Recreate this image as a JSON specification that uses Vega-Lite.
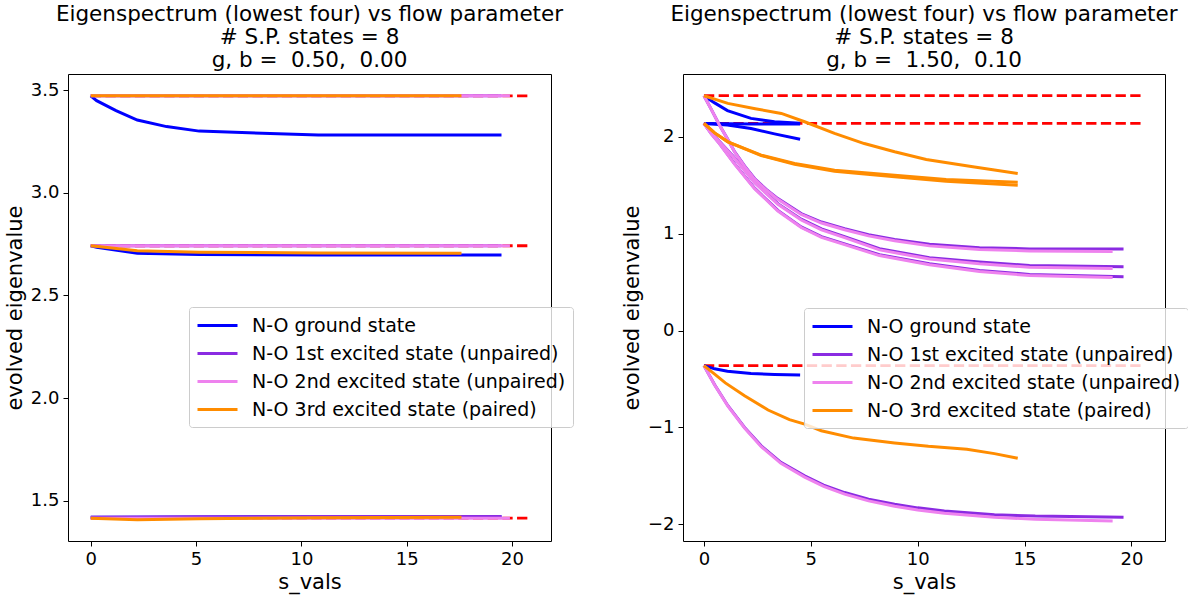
{
  "$schema": "https://vega.github.io/schema/vega-lite/v6.json",
  "background": "white",
  "padding": {"left": 3, "top": 3, "right": 5, "bottom": 5},
  "spacing": 132,
  "bounds": "flush",
  "datasets": {
    "L": [
      {"k":"ref","id":"r1","s":0,"v":3.472},{"k":"ref","id":"r1","s":20.85,"v":3.472},
      {"k":"ref","id":"r2","s":0,"v":2.742},{"k":"ref","id":"r2","s":20.85,"v":2.742},
      {"k":"ref","id":"r3","s":0,"v":1.416},{"k":"ref","id":"r3","s":20.85,"v":1.416},
      {"k":"N-O ground state","id":"b1","s":0,"v":3.472},{"k":"N-O ground state","id":"b1","s":0.28,"v":3.448},{"k":"N-O ground state","id":"b1","s":1.2,"v":3.4},{"k":"N-O ground state","id":"b1","s":2.21,"v":3.354},{"k":"N-O ground state","id":"b1","s":3.6,"v":3.322},{"k":"N-O ground state","id":"b1","s":5.15,"v":3.3},{"k":"N-O ground state","id":"b1","s":10.8,"v":3.281},{"k":"N-O ground state","id":"b1","s":19.5,"v":3.281},
      {"k":"N-O ground state","id":"b2","s":0,"v":2.742},{"k":"N-O ground state","id":"b2","s":0.28,"v":2.735},{"k":"N-O ground state","id":"b2","s":2.21,"v":2.706},{"k":"N-O ground state","id":"b2","s":5.15,"v":2.699},{"k":"N-O ground state","id":"b2","s":10.8,"v":2.697},{"k":"N-O ground state","id":"b2","s":19.5,"v":2.697},
      {"k":"N-O ground state","id":"b3","s":0,"v":1.42},{"k":"N-O ground state","id":"b3","s":2.21,"v":1.421},{"k":"N-O ground state","id":"b3","s":5.15,"v":1.422},{"k":"N-O ground state","id":"b3","s":10.8,"v":1.423},{"k":"N-O ground state","id":"b3","s":19.5,"v":1.423},
      {"k":"N-O 1st excited state (unpaired)","id":"p1","s":0,"v":3.472},{"k":"N-O 1st excited state (unpaired)","id":"p1","s":19.5,"v":3.472},
      {"k":"N-O 1st excited state (unpaired)","id":"p2","s":0,"v":2.742},{"k":"N-O 1st excited state (unpaired)","id":"p2","s":19.5,"v":2.742},
      {"k":"N-O 1st excited state (unpaired)","id":"p3","s":0,"v":1.42},{"k":"N-O 1st excited state (unpaired)","id":"p3","s":2.21,"v":1.422},{"k":"N-O 1st excited state (unpaired)","id":"p3","s":5.15,"v":1.423},{"k":"N-O 1st excited state (unpaired)","id":"p3","s":10.8,"v":1.424},{"k":"N-O 1st excited state (unpaired)","id":"p3","s":19.5,"v":1.424},
      {"k":"N-O 2nd excited state (unpaired)","id":"v1","s":0,"v":3.472},{"k":"N-O 2nd excited state (unpaired)","id":"v1","s":19.9,"v":3.472},
      {"k":"N-O 2nd excited state (unpaired)","id":"v2","s":0,"v":2.742},{"k":"N-O 2nd excited state (unpaired)","id":"v2","s":19.9,"v":2.742},
      {"k":"N-O 2nd excited state (unpaired)","id":"v3","s":0,"v":1.416},{"k":"N-O 2nd excited state (unpaired)","id":"v3","s":19.9,"v":1.416},
      {"k":"N-O 3rd excited state (paired)","id":"o1","s":0,"v":3.472},{"k":"N-O 3rd excited state (paired)","id":"o1","s":17.6,"v":3.472},
      {"k":"N-O 3rd excited state (paired)","id":"o2","s":0,"v":2.742},{"k":"N-O 3rd excited state (paired)","id":"o2","s":2.21,"v":2.718},{"k":"N-O 3rd excited state (paired)","id":"o2","s":5.15,"v":2.711},{"k":"N-O 3rd excited state (paired)","id":"o2","s":10.8,"v":2.707},{"k":"N-O 3rd excited state (paired)","id":"o2","s":17.6,"v":2.705},
      {"k":"N-O 3rd excited state (paired)","id":"o3","s":0,"v":1.416},{"k":"N-O 3rd excited state (paired)","id":"o3","s":2.21,"v":1.408},{"k":"N-O 3rd excited state (paired)","id":"o3","s":5.15,"v":1.413},{"k":"N-O 3rd excited state (paired)","id":"o3","s":10.8,"v":1.418},{"k":"N-O 3rd excited state (paired)","id":"o3","s":17.6,"v":1.42}
    ],
    "R": [
      {"k":"ref","id":"r1","s":0,"v":2.424},{"k":"ref","id":"r1","s":20.56,"v":2.424},
      {"k":"ref","id":"r2","s":0,"v":2.138},{"k":"ref","id":"r2","s":20.56,"v":2.138},
      {"k":"ref","id":"r3","s":0,"v":-0.362},{"k":"ref","id":"r3","s":20.56,"v":-0.362},
      {"k":"N-O ground state","id":"b1","s":0,"v":2.424},{"k":"N-O ground state","id":"b1","s":0.5,"v":2.35},{"k":"N-O ground state","id":"b1","s":1.1,"v":2.27},{"k":"N-O ground state","id":"b1","s":2.2,"v":2.19},{"k":"N-O ground state","id":"b1","s":3.3,"v":2.155},{"k":"N-O ground state","id":"b1","s":4.5,"v":2.14},
      {"k":"N-O ground state","id":"b2","s":0,"v":2.138},{"k":"N-O ground state","id":"b2","s":2.2,"v":2.132},{"k":"N-O ground state","id":"b2","s":4.5,"v":2.132},
      {"k":"N-O ground state","id":"b3","s":0,"v":2.138},{"k":"N-O ground state","id":"b3","s":1.1,"v":2.122},{"k":"N-O ground state","id":"b3","s":2.2,"v":2.086},{"k":"N-O ground state","id":"b3","s":3.3,"v":2.03},{"k":"N-O ground state","id":"b3","s":4.5,"v":1.975},
      {"k":"N-O ground state","id":"b4","s":0,"v":-0.362},{"k":"N-O ground state","id":"b4","s":0.5,"v":-0.395},{"k":"N-O ground state","id":"b4","s":1.1,"v":-0.42},{"k":"N-O ground state","id":"b4","s":2.2,"v":-0.443},{"k":"N-O ground state","id":"b4","s":3.3,"v":-0.453},{"k":"N-O ground state","id":"b4","s":4.5,"v":-0.459},
      {"k":"N-O 1st excited state (unpaired)","id":"p1","s":0,"v":2.424},{"k":"N-O 1st excited state (unpaired)","id":"p1","s":0.35,"v":2.28},{"k":"N-O 1st excited state (unpaired)","id":"p1","s":0.73,"v":2.12},{"k":"N-O 1st excited state (unpaired)","id":"p1","s":1.1,"v":1.98},{"k":"N-O 1st excited state (unpaired)","id":"p1","s":1.44,"v":1.844},{"k":"N-O 1st excited state (unpaired)","id":"p1","s":1.9,"v":1.7},{"k":"N-O 1st excited state (unpaired)","id":"p1","s":2.37,"v":1.569},{"k":"N-O 1st excited state (unpaired)","id":"p1","s":2.9,"v":1.46},{"k":"N-O 1st excited state (unpaired)","id":"p1","s":3.46,"v":1.362},{"k":"N-O 1st excited state (unpaired)","id":"p1","s":4.55,"v":1.207},{"k":"N-O 1st excited state (unpaired)","id":"p1","s":5.5,"v":1.12},{"k":"N-O 1st excited state (unpaired)","id":"p1","s":6.58,"v":1.052},{"k":"N-O 1st excited state (unpaired)","id":"p1","s":7.7,"v":0.99},{"k":"N-O 1st excited state (unpaired)","id":"p1","s":8.92,"v":0.941},{"k":"N-O 1st excited state (unpaired)","id":"p1","s":10.55,"v":0.89},{"k":"N-O 1st excited state (unpaired)","id":"p1","s":12.89,"v":0.855},{"k":"N-O 1st excited state (unpaired)","id":"p1","s":15.23,"v":0.843},{"k":"N-O 1st excited state (unpaired)","id":"p1","s":19.63,"v":0.841},
      {"k":"N-O 1st excited state (unpaired)","id":"p2","s":0,"v":2.138},{"k":"N-O 1st excited state (unpaired)","id":"p2","s":0.35,"v":2.04},{"k":"N-O 1st excited state (unpaired)","id":"p2","s":0.73,"v":1.95},{"k":"N-O 1st excited state (unpaired)","id":"p2","s":1.44,"v":1.78},{"k":"N-O 1st excited state (unpaired)","id":"p2","s":2.37,"v":1.53},{"k":"N-O 1st excited state (unpaired)","id":"p2","s":3.46,"v":1.31},{"k":"N-O 1st excited state (unpaired)","id":"p2","s":4.55,"v":1.15},{"k":"N-O 1st excited state (unpaired)","id":"p2","s":5.5,"v":1.05},{"k":"N-O 1st excited state (unpaired)","id":"p2","s":6.58,"v":0.97},{"k":"N-O 1st excited state (unpaired)","id":"p2","s":8.21,"v":0.845},{"k":"N-O 1st excited state (unpaired)","id":"p2","s":10.55,"v":0.752},{"k":"N-O 1st excited state (unpaired)","id":"p2","s":12.89,"v":0.707},{"k":"N-O 1st excited state (unpaired)","id":"p2","s":15.23,"v":0.672},{"k":"N-O 1st excited state (unpaired)","id":"p2","s":19.63,"v":0.659},
      {"k":"N-O 1st excited state (unpaired)","id":"p3","s":0,"v":2.138},{"k":"N-O 1st excited state (unpaired)","id":"p3","s":0.35,"v":2.03},{"k":"N-O 1st excited state (unpaired)","id":"p3","s":0.73,"v":1.93},{"k":"N-O 1st excited state (unpaired)","id":"p3","s":1.44,"v":1.72},{"k":"N-O 1st excited state (unpaired)","id":"p3","s":2.37,"v":1.47},{"k":"N-O 1st excited state (unpaired)","id":"p3","s":3.46,"v":1.24},{"k":"N-O 1st excited state (unpaired)","id":"p3","s":4.55,"v":1.07},{"k":"N-O 1st excited state (unpaired)","id":"p3","s":5.5,"v":0.97},{"k":"N-O 1st excited state (unpaired)","id":"p3","s":6.58,"v":0.895},{"k":"N-O 1st excited state (unpaired)","id":"p3","s":8.21,"v":0.783},{"k":"N-O 1st excited state (unpaired)","id":"p3","s":10.55,"v":0.69},{"k":"N-O 1st excited state (unpaired)","id":"p3","s":12.89,"v":0.621},{"k":"N-O 1st excited state (unpaired)","id":"p3","s":15.23,"v":0.579},{"k":"N-O 1st excited state (unpaired)","id":"p3","s":19.63,"v":0.555},
      {"k":"N-O 1st excited state (unpaired)","id":"p4","s":0,"v":-0.362},{"k":"N-O 1st excited state (unpaired)","id":"p4","s":0.5,"v":-0.56},{"k":"N-O 1st excited state (unpaired)","id":"p4","s":1.12,"v":-0.776},{"k":"N-O 1st excited state (unpaired)","id":"p4","s":1.9,"v":-1.0},{"k":"N-O 1st excited state (unpaired)","id":"p4","s":2.68,"v":-1.19},{"k":"N-O 1st excited state (unpaired)","id":"p4","s":3.6,"v":-1.36},{"k":"N-O 1st excited state (unpaired)","id":"p4","s":4.71,"v":-1.5},{"k":"N-O 1st excited state (unpaired)","id":"p4","s":5.6,"v":-1.595},{"k":"N-O 1st excited state (unpaired)","id":"p4","s":6.58,"v":-1.672},{"k":"N-O 1st excited state (unpaired)","id":"p4","s":7.7,"v":-1.74},{"k":"N-O 1st excited state (unpaired)","id":"p4","s":8.92,"v":-1.793},{"k":"N-O 1st excited state (unpaired)","id":"p4","s":10.0,"v":-1.83},{"k":"N-O 1st excited state (unpaired)","id":"p4","s":11.25,"v":-1.862},{"k":"N-O 1st excited state (unpaired)","id":"p4","s":13.59,"v":-1.9},{"k":"N-O 1st excited state (unpaired)","id":"p4","s":15.5,"v":-1.915},{"k":"N-O 1st excited state (unpaired)","id":"p4","s":19.63,"v":-1.927},
      {"k":"N-O 2nd excited state (unpaired)","id":"v1","s":0,"v":2.424},{"k":"N-O 2nd excited state (unpaired)","id":"v1","s":0.35,"v":2.28},{"k":"N-O 2nd excited state (unpaired)","id":"v1","s":0.73,"v":2.118},{"k":"N-O 2nd excited state (unpaired)","id":"v1","s":1.1,"v":1.977},{"k":"N-O 2nd excited state (unpaired)","id":"v1","s":1.44,"v":1.84},{"k":"N-O 2nd excited state (unpaired)","id":"v1","s":1.9,"v":1.695},{"k":"N-O 2nd excited state (unpaired)","id":"v1","s":2.37,"v":1.563},{"k":"N-O 2nd excited state (unpaired)","id":"v1","s":2.9,"v":1.453},{"k":"N-O 2nd excited state (unpaired)","id":"v1","s":3.46,"v":1.354},{"k":"N-O 2nd excited state (unpaired)","id":"v1","s":4.55,"v":1.198},{"k":"N-O 2nd excited state (unpaired)","id":"v1","s":5.5,"v":1.11},{"k":"N-O 2nd excited state (unpaired)","id":"v1","s":6.58,"v":1.04},{"k":"N-O 2nd excited state (unpaired)","id":"v1","s":7.7,"v":0.977},{"k":"N-O 2nd excited state (unpaired)","id":"v1","s":8.92,"v":0.927},{"k":"N-O 2nd excited state (unpaired)","id":"v1","s":10.55,"v":0.874},{"k":"N-O 2nd excited state (unpaired)","id":"v1","s":12.89,"v":0.836},{"k":"N-O 2nd excited state (unpaired)","id":"v1","s":15.23,"v":0.822},{"k":"N-O 2nd excited state (unpaired)","id":"v1","s":19.12,"v":0.817},
      {"k":"N-O 2nd excited state (unpaired)","id":"v2","s":0,"v":2.138},{"k":"N-O 2nd excited state (unpaired)","id":"v2","s":0.35,"v":2.038},{"k":"N-O 2nd excited state (unpaired)","id":"v2","s":0.73,"v":1.947},{"k":"N-O 2nd excited state (unpaired)","id":"v2","s":1.44,"v":1.776},{"k":"N-O 2nd excited state (unpaired)","id":"v2","s":2.37,"v":1.525},{"k":"N-O 2nd excited state (unpaired)","id":"v2","s":3.46,"v":1.303},{"k":"N-O 2nd excited state (unpaired)","id":"v2","s":4.55,"v":1.141},{"k":"N-O 2nd excited state (unpaired)","id":"v2","s":5.5,"v":1.04},{"k":"N-O 2nd excited state (unpaired)","id":"v2","s":6.58,"v":0.959},{"k":"N-O 2nd excited state (unpaired)","id":"v2","s":8.21,"v":0.833},{"k":"N-O 2nd excited state (unpaired)","id":"v2","s":10.55,"v":0.738},{"k":"N-O 2nd excited state (unpaired)","id":"v2","s":12.89,"v":0.69},{"k":"N-O 2nd excited state (unpaired)","id":"v2","s":15.23,"v":0.654},{"k":"N-O 2nd excited state (unpaired)","id":"v2","s":19.12,"v":0.641},
      {"k":"N-O 2nd excited state (unpaired)","id":"v3","s":0,"v":2.138},{"k":"N-O 2nd excited state (unpaired)","id":"v3","s":0.35,"v":2.028},{"k":"N-O 2nd excited state (unpaired)","id":"v3","s":0.73,"v":1.927},{"k":"N-O 2nd excited state (unpaired)","id":"v3","s":1.44,"v":1.716},{"k":"N-O 2nd excited state (unpaired)","id":"v3","s":2.37,"v":1.465},{"k":"N-O 2nd excited state (unpaired)","id":"v3","s":3.46,"v":1.234},{"k":"N-O 2nd excited state (unpaired)","id":"v3","s":4.55,"v":1.063},{"k":"N-O 2nd excited state (unpaired)","id":"v3","s":5.5,"v":0.962},{"k":"N-O 2nd excited state (unpaired)","id":"v3","s":6.58,"v":0.887},{"k":"N-O 2nd excited state (unpaired)","id":"v3","s":8.21,"v":0.774},{"k":"N-O 2nd excited state (unpaired)","id":"v3","s":10.55,"v":0.68},{"k":"N-O 2nd excited state (unpaired)","id":"v3","s":12.89,"v":0.61},{"k":"N-O 2nd excited state (unpaired)","id":"v3","s":15.23,"v":0.568},{"k":"N-O 2nd excited state (unpaired)","id":"v3","s":19.12,"v":0.548},
      {"k":"N-O 2nd excited state (unpaired)","id":"v4","s":0,"v":-0.362},{"k":"N-O 2nd excited state (unpaired)","id":"v4","s":0.5,"v":-0.562},{"k":"N-O 2nd excited state (unpaired)","id":"v4","s":1.12,"v":-0.78},{"k":"N-O 2nd excited state (unpaired)","id":"v4","s":1.9,"v":-1.006},{"k":"N-O 2nd excited state (unpaired)","id":"v4","s":2.68,"v":-1.198},{"k":"N-O 2nd excited state (unpaired)","id":"v4","s":3.6,"v":-1.37},{"k":"N-O 2nd excited state (unpaired)","id":"v4","s":4.71,"v":-1.512},{"k":"N-O 2nd excited state (unpaired)","id":"v4","s":5.6,"v":-1.609},{"k":"N-O 2nd excited state (unpaired)","id":"v4","s":6.58,"v":-1.688},{"k":"N-O 2nd excited state (unpaired)","id":"v4","s":7.7,"v":-1.758},{"k":"N-O 2nd excited state (unpaired)","id":"v4","s":8.92,"v":-1.813},{"k":"N-O 2nd excited state (unpaired)","id":"v4","s":10.0,"v":-1.852},{"k":"N-O 2nd excited state (unpaired)","id":"v4","s":11.25,"v":-1.886},{"k":"N-O 2nd excited state (unpaired)","id":"v4","s":13.59,"v":-1.928},{"k":"N-O 2nd excited state (unpaired)","id":"v4","s":15.5,"v":-1.947},{"k":"N-O 2nd excited state (unpaired)","id":"v4","s":19.12,"v":-1.965},
      {"k":"N-O 3rd excited state (paired)","id":"o1","s":0,"v":2.424},{"k":"N-O 3rd excited state (paired)","id":"o1","s":1.12,"v":2.345},{"k":"N-O 3rd excited state (paired)","id":"o1","s":2.4,"v":2.29},{"k":"N-O 3rd excited state (paired)","id":"o1","s":3.62,"v":2.241},{"k":"N-O 3rd excited state (paired)","id":"o1","s":4.71,"v":2.155},{"k":"N-O 3rd excited state (paired)","id":"o1","s":6.11,"v":2.035},{"k":"N-O 3rd excited state (paired)","id":"o1","s":7.5,"v":1.93},{"k":"N-O 3rd excited state (paired)","id":"o1","s":8.92,"v":1.845},{"k":"N-O 3rd excited state (paired)","id":"o1","s":10.4,"v":1.766},{"k":"N-O 3rd excited state (paired)","id":"o1","s":12.58,"v":1.69},{"k":"N-O 3rd excited state (paired)","id":"o1","s":14.68,"v":1.621},
      {"k":"N-O 3rd excited state (paired)","id":"o2","s":0,"v":2.138},{"k":"N-O 3rd excited state (paired)","id":"o2","s":0.5,"v":2.04},{"k":"N-O 3rd excited state (paired)","id":"o2","s":1.12,"v":1.948},{"k":"N-O 3rd excited state (paired)","id":"o2","s":2.68,"v":1.81},{"k":"N-O 3rd excited state (paired)","id":"o2","s":4.24,"v":1.724},{"k":"N-O 3rd excited state (paired)","id":"o2","s":6.11,"v":1.655},{"k":"N-O 3rd excited state (paired)","id":"o2","s":8.92,"v":1.603},{"k":"N-O 3rd excited state (paired)","id":"o2","s":11.33,"v":1.56},{"k":"N-O 3rd excited state (paired)","id":"o2","s":14.68,"v":1.53},
      {"k":"N-O 3rd excited state (paired)","id":"o3","s":0,"v":2.138},{"k":"N-O 3rd excited state (paired)","id":"o3","s":0.5,"v":2.04},{"k":"N-O 3rd excited state (paired)","id":"o3","s":1.12,"v":1.948},{"k":"N-O 3rd excited state (paired)","id":"o3","s":2.68,"v":1.806},{"k":"N-O 3rd excited state (paired)","id":"o3","s":4.24,"v":1.716},{"k":"N-O 3rd excited state (paired)","id":"o3","s":6.11,"v":1.645},{"k":"N-O 3rd excited state (paired)","id":"o3","s":8.92,"v":1.588},{"k":"N-O 3rd excited state (paired)","id":"o3","s":11.33,"v":1.542},{"k":"N-O 3rd excited state (paired)","id":"o3","s":14.68,"v":1.5},
      {"k":"N-O 3rd excited state (paired)","id":"o4","s":0,"v":-0.362},{"k":"N-O 3rd excited state (paired)","id":"o4","s":0.5,"v":-0.45},{"k":"N-O 3rd excited state (paired)","id":"o4","s":1.0,"v":-0.54},{"k":"N-O 3rd excited state (paired)","id":"o4","s":1.9,"v":-0.672},{"k":"N-O 3rd excited state (paired)","id":"o4","s":3.0,"v":-0.82},{"k":"N-O 3rd excited state (paired)","id":"o4","s":4.0,"v":-0.92},{"k":"N-O 3rd excited state (paired)","id":"o4","s":4.71,"v":-0.966},{"k":"N-O 3rd excited state (paired)","id":"o4","s":5.49,"v":-1.034},{"k":"N-O 3rd excited state (paired)","id":"o4","s":7.0,"v":-1.11},{"k":"N-O 3rd excited state (paired)","id":"o4","s":8.92,"v":-1.16},{"k":"N-O 3rd excited state (paired)","id":"o4","s":10.5,"v":-1.195},{"k":"N-O 3rd excited state (paired)","id":"o4","s":12.3,"v":-1.225},{"k":"N-O 3rd excited state (paired)","id":"o4","s":13.59,"v":-1.27},{"k":"N-O 3rd excited state (paired)","id":"o4","s":14.68,"v":-1.317}
    ]
  },
  "hconcat": [
    {
      "title": {"text": ["Eigenspectrum (lowest four) vs flow parameter", "# S.P. states = 8", "g, b = \u00a00.50, \u00a00.00"]},
      "width": 483,
      "height": 467,
      "data": {"name": "L"},
      "encoding": {
        "x": {"field": "s", "type": "quantitative", "scale": {"domain": [-1.08, 21.85], "nice": false, "zero": false}, "axis": {"values": [0, 5, 10, 15, 20], "title": "s_vals"}},
        "y": {"field": "v", "type": "quantitative", "scale": {"domain": [1.305, 3.578], "nice": false, "zero": false}, "axis": {"values": [1.5, 2.0, 2.5, 3.0, 3.5], "format": ".1f", "title": "evolved eigenvalue"}},
        "detail": {"field": "id"},
        "color": {"field": "k", "type": "nominal", "scale": {"domain": ["N-O ground state", "N-O 1st excited state (unpaired)", "N-O 2nd excited state (unpaired)", "N-O 3rd excited state (paired)"], "range": ["#0000ff", "#8a2be2", "#ee82ee", "#ff8c00"]}, "legend": {"orient": "none", "legendX": 121, "legendY": 233, "title": null}}
      },
      "layer": [
        {"transform": [{"filter": "datum.k === 'ref'"}], "mark": {"type": "line", "strokeWidth": 2.8, "strokeDash": [10.3, 4.4]}, "encoding": {"color": {"value": "#ff0000"}}},
        {"transform": [{"filter": "datum.k === 'N-O ground state'"}], "mark": {"type": "line", "strokeWidth": 3}},
        {"transform": [{"filter": "datum.k === 'N-O 1st excited state (unpaired)'"}], "mark": {"type": "line", "strokeWidth": 3}},
        {"transform": [{"filter": "datum.k === 'N-O 2nd excited state (unpaired)'"}], "mark": {"type": "line", "strokeWidth": 3}},
        {"transform": [{"filter": "datum.k === 'N-O 3rd excited state (paired)'"}], "mark": {"type": "line", "strokeWidth": 3}}
      ]
    },
    {
      "title": {"text": ["Eigenspectrum (lowest four) vs flow parameter", "# S.P. states = 8", "g, b = \u00a01.50, \u00a00.10"]},
      "width": 482,
      "height": 467,
      "data": {"name": "R"},
      "encoding": {
        "x": {"field": "s", "type": "quantitative", "scale": {"domain": [-0.98, 21.57], "nice": false, "zero": false}, "axis": {"values": [0, 5, 10, 15, 20], "title": "s_vals"}},
        "y": {"field": "v", "type": "quantitative", "scale": {"domain": [-2.172, 2.648], "nice": false, "zero": false}, "axis": {"values": [-2, -1, 0, 1, 2], "format": "d", "title": "evolved eigenvalue"}},
        "detail": {"field": "id"},
        "color": {"field": "k", "type": "nominal", "scale": {"domain": ["N-O ground state", "N-O 1st excited state (unpaired)", "N-O 2nd excited state (unpaired)", "N-O 3rd excited state (paired)"], "range": ["#0000ff", "#8a2be2", "#ee82ee", "#ff8c00"]}, "legend": {"orient": "none", "legendX": 121, "legendY": 234, "title": null}}
      },
      "layer": [
        {"transform": [{"filter": "datum.k === 'ref'"}], "mark": {"type": "line", "strokeWidth": 2.8, "strokeDash": [10.3, 4.4]}, "encoding": {"color": {"value": "#ff0000"}}},
        {"transform": [{"filter": "datum.k === 'N-O ground state'"}], "mark": {"type": "line", "strokeWidth": 3}},
        {"transform": [{"filter": "datum.k === 'N-O 1st excited state (unpaired)'"}], "mark": {"type": "line", "strokeWidth": 3}},
        {"transform": [{"filter": "datum.k === 'N-O 2nd excited state (unpaired)'"}], "mark": {"type": "line", "strokeWidth": 3}},
        {"transform": [{"filter": "datum.k === 'N-O 3rd excited state (paired)'"}], "mark": {"type": "line", "strokeWidth": 3}}
      ]
    }
  ],
  "resolve": {"scale": {"color": "independent"}, "legend": {"color": "independent"}},
  "config": {
    "font": "DejaVu Sans",
    "view": {"stroke": "#000000", "strokeWidth": 1},
    "axis": {"grid": false, "domain": false, "ticks": true, "tickColor": "#000000", "tickSize": 5, "tickWidth": 1, "labelColor": "#000000", "labelFontSize": 18, "labelFont": "DejaVu Sans", "labelPadding": 4, "titleColor": "#000000", "titleFontSize": 21, "titleFont": "DejaVu Sans", "titleFontWeight": "normal"},
    "axisX": {"titlePadding": 3},
    "axisY": {"titlePadding": 5},
    "title": {"font": "DejaVu Sans", "fontSize": 21.5, "fontWeight": "normal", "color": "#000000", "lineHeight": 23, "anchor": "middle", "offset": 3},
    "legend": {"symbolType": "M-1,0H3", "symbolSize": 400, "symbolStrokeWidth": 3, "labelFontSize": 19, "labelFont": "DejaVu Sans", "labelColor": "#000000", "labelOffset": 33, "rowPadding": 6, "padding": 7, "fillColor": "rgba(255,255,255,0.8)", "strokeColor": "#cccccc", "cornerRadius": 3, "labelLimit": 500}
  }
}
